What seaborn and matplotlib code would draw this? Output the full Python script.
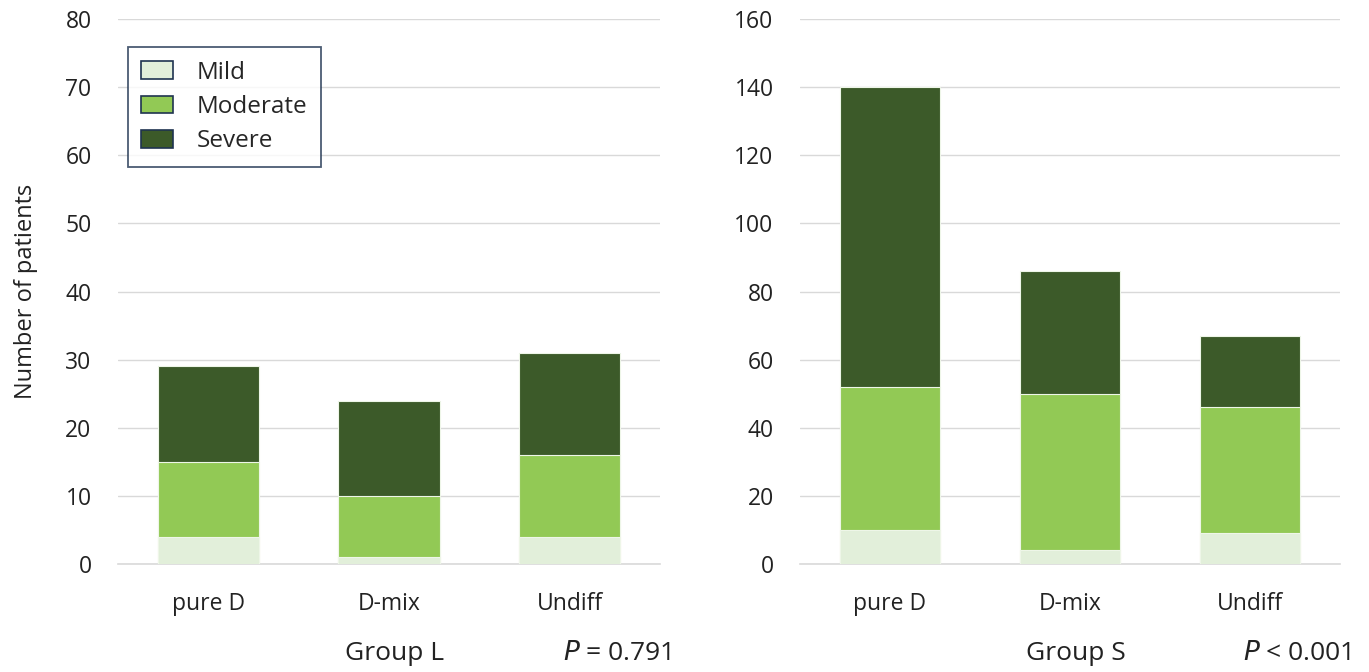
import matplotlib.pyplot as plt
import matplotlib.patches as mpatches
import seaborn as sns
import numpy as np

sns.set_style("white")
plt.rcParams['font.family'] = ['Open Sans', 'DejaVu Sans']

categories = ['pure D', 'D-mix', 'Undiff']
severity = ['Mild', 'Moderate', 'Severe']
colors = ['#E2EFDA', '#92C955', '#3C5A29']

mild_L = [4, 1, 4]
moderate_L = [11, 9, 12]
severe_L = [14, 14, 15]

mild_S = [10, 4, 9]
moderate_S = [42, 46, 37]
severe_S = [88, 36, 21]

groups = ['Group L', 'Group S']
pvalues = ['$\\it{P}$ = 0.791', '$\\it{P}$ < 0.001']
ymax = [80, 160]
ystep = [10, 20]

fig = plt.figure(figsize=(13.69, 6.72), dpi=100)
ax1 = fig.add_axes([0.0862, 0.1607, 0.3958, 0.811])
ax2 = fig.add_axes([0.5844, 0.1607, 0.3944, 0.811])


def stacked(ax, mild, moderate, severe, top, step, group, pval):
    layers = [np.array(mild), np.array(mild) + moderate,
              np.array(mild) + moderate + severe]
    # draw cumulative heights from tallest to shortest so they stack visually
    for vals, c in zip(layers[::-1], colors[::-1]):
        sns.barplot(x=categories, y=vals, color=c, width=0.56, ax=ax,
                    edgecolor='#EEF6E8', linewidth=0.8, saturation=1, zorder=3)
    ax.set_ylim(0, top)
    ax.set_xlim(-0.5, 2.5)
    ax.set_yticks(np.arange(0, top + 1, step))
    ax.yaxis.grid(True, color='#D9D9D9', linewidth=1, zorder=0)
    ax.set_axisbelow(True)
    for s in ['top', 'right', 'left']:
        ax.spines[s].set_visible(False)
    ax.spines['bottom'].set_color('#D9D9D9')
    ax.spines['bottom'].set_linewidth(1.2)
    ax.tick_params(axis='both', length=0, labelsize=16.5, colors='#222222')
    ax.tick_params(axis='x', pad=20)
    ax.tick_params(axis='y', pad=19)
    ax.text(0.51, -0.165, group, transform=ax.transAxes, fontsize=19,
            ha='center', va='center', color='#222222')
    ax.text(1.02, -0.165, pval, transform=ax.transAxes, fontsize=19,
            ha='right', va='center', color='#222222')


stacked(ax1, mild_L, moderate_L, severe_L, ymax[0], ystep[0], groups[0], pvalues[0])
stacked(ax2, mild_S, moderate_S, severe_S, ymax[1], ystep[1], groups[1], pvalues[1])

ax1.set_ylabel('Number of patients', fontsize=17, color='#222222', labelpad=20)
ax2.set_ylabel('')

handles = [mpatches.Patch(facecolor=c, edgecolor='#1F3350', linewidth=1.2, label=l)
           for c, l in zip(colors, severity)]
leg = ax1.legend(handles=handles, loc='upper left', bbox_to_anchor=(0.018, 0.948),
                 borderaxespad=0, fontsize=17.5, frameon=True, fancybox=False,
                 handlelength=1.3, handleheight=0.75, handletextpad=1.0,
                 labelspacing=0.42, borderpad=0.55)
leg.get_frame().set_edgecolor('#1F3350')
leg.get_frame().set_linewidth(1.3)

fig.savefig('out.png', dpi=100)
